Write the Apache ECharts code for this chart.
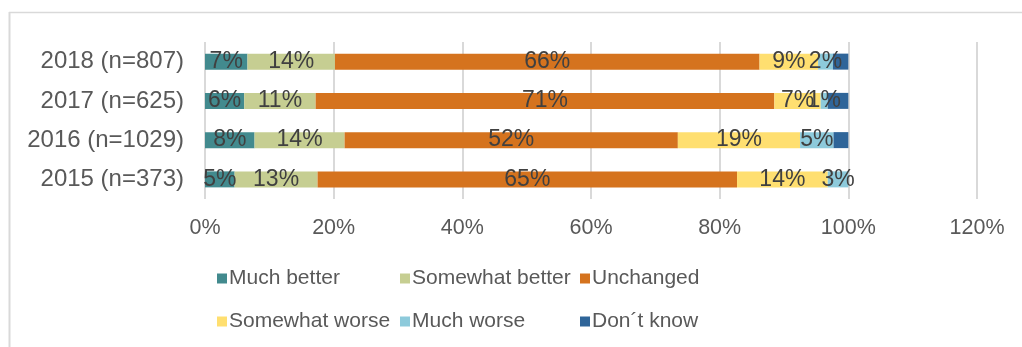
<!DOCTYPE html>
<html>
<head>
<meta charset="utf-8">
<script src="https://cdn.jsdelivr.net/npm/echarts@6/dist/echarts.min.js"></script>
<style>
  html, body { margin: 0; padding: 0; background: #fff; }
  #chart { width: 1022px; height: 347px; }
</style>
</head>
<body>
<div id="chart"></div>
<script>
// years, bottom to top
var categories = ['2015 (n=373)', '2016 (n=1029)', '2017 (n=625)', '2018 (n=807)'];
var seriesNames = ['Much better', 'Somewhat better', 'Unchanged', 'Somewhat worse', 'Much worse', 'Don\u00b4t know'];
var colors = ['#428a8e', '#c6ce92', '#d5731e', '#ffdf70', '#8dcadb', '#2f6599'];

// percent values per series (2015, 2016, 2017, 2018)
var muchBetter     = [4.6, 7.7, 6.1, 6.6];
var somewhatBetter = [12.9, 14.0, 11.1, 13.6];
var unchanged      = [65.2, 51.8, 71.3, 66.0];
var somewhatWorse  = [14.1, 19.0, 7.2, 9.1];
var muchWorse      = [3.2, 5.2, 1.1, 2.3];
var dontKnow       = [0, 2.3, 3.2, 2.4];

var xTicks = [0, 20, 40, 60, 80, 100, 120];

var values = [muchBetter, somewhatBetter, unchanged, somewhatWorse, muchWorse, dontKnow];
var font = 'Liberation Sans, Arial, sans-serif';

var chart = echarts.init(document.getElementById('chart'));

var series = values.map(function (v, i) {
    return {
        name: seriesNames[i],
        type: 'bar',
        stack: 'total',
        barWidth: 16,
        data: v,
        itemStyle: { color: colors[i] },
        label: {
            show: i < 5,
            position: 'inside',
            color: '#404040',
            fontSize: 23,
            fontFamily: font,
            formatter: function (p) { return Math.round(p.value) + '%'; }
        },
        labelLayout: { hideOverlap: false }
    };
});

// one legend per item so the columns line up
var legendPos = [
    [217, 268], [400, 268], [580, 268],
    [217, 311], [400, 311], [580, 311]
];
var legends = seriesNames.map(function (n, i) {
    return {
        data: [n],
        left: legendPos[i][0],
        top: legendPos[i][1],
        itemWidth: 10,
        itemHeight: 10,
        icon: 'rect',
        padding: 0,
        textStyle: { color: '#595959', fontSize: 21, fontFamily: font, padding: [0, 0, 0, -3] },
        selectedMode: false
    };
});

var option = {
    animation: false,
    backgroundColor: '#fff',
    legend: legends,
    grid: { left: 205, right: 45, top: 42, height: 157, containLabel: false },
    xAxis: {
        type: 'value',
        min: 0,
        max: 120,
        interval: 20,
        axisLine: { show: false },
        axisTick: { show: false },
        splitLine: { lineStyle: { color: '#d9d9d9', width: 2 } },
        axisLabel: {
            color: '#595959',
            fontSize: 21.5,
            margin: 18,
            fontFamily: font,
            formatter: function (v) { return xTicks.indexOf(v) >= 0 ? v + '%' : ''; }
        }
    },
    yAxis: {
        type: 'category',
        data: categories,
        axisLine: { show: false },
        axisTick: { show: false },
        axisLabel: {
            color: '#595959',
            fontSize: 24,
            margin: 21,
            fontFamily: font
        }
    },
    graphic: [
        { type: 'line', shape: { x1: 9.5, y1: 12, x2: 9.5, y2: 347 }, style: { stroke: '#d9d9d9', lineWidth: 2 } },
        { type: 'line', shape: { x1: 9, y1: 12.5, x2: 1022, y2: 12.5 }, style: { stroke: '#d9d9d9', lineWidth: 1.5 } }
    ],
    series: series
};

chart.setOption(option);
</script>
</body>
</html>
